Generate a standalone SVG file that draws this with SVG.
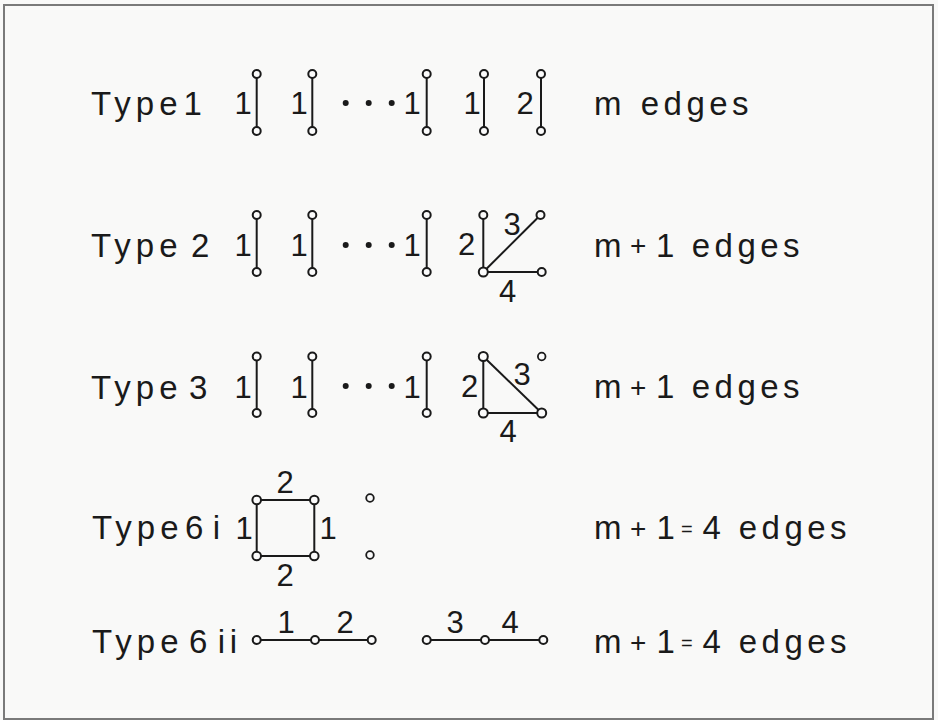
<svg xmlns="http://www.w3.org/2000/svg" width="938" height="720" viewBox="0 0 938 720">
<style>
  .bg{fill:#f9f9f8}
  .frame{fill:none;stroke:#7a7a7a;stroke-width:2}
  .e{stroke:#1a1a1a;stroke-width:2;fill:none}
  .v{fill:#fbfbfb;stroke:#1a1a1a;stroke-width:2}
  .s{fill:#fbfbfb;stroke:#1a1a1a;stroke-width:1.8}
  .dot{fill:#1a1a1a}
  .t{font-family:"Liberation Sans",Arial,sans-serif;font-size:33px;fill:#1a1a1a}
  .w{letter-spacing:5px}
  .g{letter-spacing:4.5px}
  .pl{font-size:28px}
  .eq{font-size:20px}
  .n{font-family:"Liberation Sans",Arial,sans-serif;font-size:31px;fill:#1a1a1a;text-anchor:middle}
</style>
<rect class="bg" x="0" y="0" width="938" height="720"/>
<rect class="frame" x="4" y="5" width="929" height="714"/>

<g id="connectors">
  <!-- Type 1 -->
  <line class="e" x1="256.7" y1="74" x2="256.7" y2="131"/>
  <line class="e" x1="312.3" y1="74" x2="312.3" y2="131"/>
  <line class="e" x1="426.7" y1="74" x2="426.7" y2="131"/>
  <line class="e" x1="484" y1="74" x2="484" y2="131"/>
  <line class="e" x1="541" y1="74" x2="541" y2="131"/>
  <!-- Type 2 -->
  <line class="e" x1="256.7" y1="215" x2="256.7" y2="272"/>
  <line class="e" x1="312.3" y1="215" x2="312.3" y2="272"/>
  <line class="e" x1="426.7" y1="215" x2="426.7" y2="272"/>
  <line class="e" x1="483.3" y1="215" x2="483.3" y2="272"/>
  <line class="e" x1="483.3" y1="272" x2="540.5" y2="215"/>
  <line class="e" x1="483.3" y1="272" x2="541.7" y2="272"/>
  <!-- Type 3 -->
  <line class="e" x1="256.7" y1="356.5" x2="256.7" y2="413"/>
  <line class="e" x1="312.3" y1="356.5" x2="312.3" y2="413"/>
  <line class="e" x1="426.7" y1="356.5" x2="426.7" y2="413"/>
  <line class="e" x1="483.3" y1="356.5" x2="483.3" y2="413"/>
  <line class="e" x1="483.3" y1="356.5" x2="541.7" y2="413"/>
  <line class="e" x1="483.3" y1="413" x2="541.7" y2="413"/>
  <!-- Type 6i -->
  <rect class="e" x="256.7" y="500" width="57.6" height="56"/>
  <!-- Type 6ii -->
  <line class="e" x1="256.7" y1="640" x2="371.7" y2="640"/>
  <line class="e" x1="426.7" y1="640" x2="543.3" y2="640"/>
</g>

<g id="type1">
  <text class="t" y="115"><tspan class="w" x="91">Typ</tspan><tspan>e</tspan> <tspan x="183.5">1</tspan></text>
  <g class="nodes">
    <circle class="v" cx="256.7" cy="74" r="4"/><circle class="v" cx="256.7" cy="131" r="4"/>
    <circle class="v" cx="312.3" cy="74" r="4"/><circle class="v" cx="312.3" cy="131" r="4"/>
    <circle class="v" cx="426.7" cy="74" r="4"/><circle class="v" cx="426.7" cy="131" r="4"/>
    <circle class="v" cx="484" cy="74" r="4"/><circle class="v" cx="484" cy="131" r="4"/>
    <circle class="v" cx="541" cy="74" r="4"/><circle class="v" cx="541" cy="131" r="4"/>
  </g>
  <text class="n" x="243" y="114">1</text>
  <text class="n" x="299" y="114">1</text>
  <text class="n" x="412" y="114">1</text>
  <text class="n" x="472" y="114">1</text>
  <text class="n" x="525" y="114">2</text>
  <circle class="dot" cx="345.7" cy="103" r="3"/>
  <circle class="dot" cx="368.7" cy="103" r="3"/>
  <circle class="dot" cx="391.7" cy="103" r="3"/>
  <text class="t" y="115"><tspan x="594">m</tspan> <tspan class="g" x="640.7">edges</tspan></text>
</g>

<g id="type2">
  <text class="t" y="256.5"><tspan class="w" x="91">Typ</tspan><tspan>e</tspan> <tspan x="191">2</tspan></text>
  <g class="nodes">
    <circle class="v" cx="256.7" cy="215" r="4"/><circle class="v" cx="256.7" cy="272" r="4"/>
    <circle class="v" cx="312.3" cy="215" r="4"/><circle class="v" cx="312.3" cy="272" r="4"/>
    <circle class="v" cx="426.7" cy="215" r="4"/><circle class="v" cx="426.7" cy="272" r="4"/>
    <circle class="v" cx="483.3" cy="215" r="4"/><circle class="v" cx="483.3" cy="272" r="4.5"/>
    <circle class="v" cx="540.5" cy="215" r="4"/><circle class="v" cx="541.7" cy="272" r="4"/>
  </g>
  <text class="n" x="243" y="256">1</text>
  <text class="n" x="299" y="256">1</text>
  <text class="n" x="412" y="256">1</text>
  <text class="n" x="466.5" y="255">2</text>
  <text class="n" x="512" y="235">3</text>
  <text class="n" x="507.5" y="302">4</text>
  <circle class="dot" cx="345.7" cy="245" r="3"/>
  <circle class="dot" cx="368.7" cy="245" r="3"/>
  <circle class="dot" cx="391.7" cy="245" r="3"/>
  <text class="t" y="256.5"><tspan x="594">m</tspan> <tspan class="pl" x="630" dy="-1.5">+</tspan> <tspan x="656" dy="1.5">1</tspan> <tspan class="g" x="691.7">edges</tspan></text>
</g>

<g id="type3">
  <text class="t" y="399"><tspan class="w" x="91">Typ</tspan><tspan>e</tspan> <tspan x="189">3</tspan></text>
  <g class="nodes">
    <circle class="v" cx="256.7" cy="356.5" r="4"/><circle class="v" cx="256.7" cy="413" r="4"/>
    <circle class="v" cx="312.3" cy="356.5" r="4"/><circle class="v" cx="312.3" cy="413" r="4"/>
    <circle class="v" cx="426.7" cy="356.5" r="4"/><circle class="v" cx="426.7" cy="413" r="4"/>
    <circle class="v" cx="483.3" cy="356.5" r="4.5"/><circle class="v" cx="483.3" cy="413" r="4.5"/>
    <circle class="v" cx="541.7" cy="413" r="4.5"/>
    <circle class="s" cx="541.7" cy="356.5" r="3.8"/>
  </g>
  <text class="n" x="243" y="398">1</text>
  <text class="n" x="299" y="398">1</text>
  <text class="n" x="412" y="398">1</text>
  <text class="n" x="469.5" y="397">2</text>
  <text class="n" x="522" y="385">3</text>
  <text class="n" x="508" y="442">4</text>
  <circle class="dot" cx="345.7" cy="386" r="3"/>
  <circle class="dot" cx="368.7" cy="386" r="3"/>
  <circle class="dot" cx="391.7" cy="386" r="3"/>
  <text class="t" y="398"><tspan x="594">m</tspan> <tspan class="pl" x="630" dy="-1.5">+</tspan> <tspan x="656" dy="1.5">1</tspan> <tspan class="g" x="691.7">edges</tspan></text>
</g>

<g id="type6i">
  <text class="t" y="539"><tspan class="w" x="92">Typ</tspan><tspan>e</tspan> <tspan x="185">6</tspan><tspan x="212.7">i</tspan></text>
  <g class="nodes">
    <circle class="v" cx="256.7" cy="500" r="4.3"/><circle class="v" cx="314.3" cy="500" r="4.3"/>
    <circle class="v" cx="256.7" cy="556" r="4.3"/><circle class="v" cx="314.3" cy="556" r="4.3"/>
    <circle class="s" cx="370" cy="498" r="3.8"/><circle class="s" cx="370" cy="555" r="3.8"/>
  </g>
  <text class="n" x="285" y="493">2</text>
  <text class="n" x="285" y="586">2</text>
  <text class="n" x="244" y="539">1</text>
  <text class="n" x="328" y="539">1</text>
  <text class="t" y="539"><tspan x="594">m</tspan> <tspan class="pl" x="630" dy="-1.5">+</tspan> <tspan x="656.5" dy="1.5">1</tspan><tspan class="eq" x="681" dy="-3">=</tspan><tspan x="702.5" dy="3">4</tspan> <tspan class="g" x="738.7">edges</tspan></text>
</g>

<g id="type6ii">
  <text class="t" y="653"><tspan class="w" x="92">Typ</tspan><tspan>e</tspan><tspan x="189">6</tspan><tspan x="217.7">i</tspan><tspan x="229.7">i</tspan></text>
  <g class="nodes">
    <circle class="v" cx="256.7" cy="640" r="4"/><circle class="v" cx="315" cy="640" r="4"/><circle class="v" cx="371.7" cy="640" r="4"/>
    <circle class="v" cx="426.7" cy="640" r="4"/><circle class="v" cx="485" cy="640" r="4"/><circle class="v" cx="543.3" cy="640" r="4"/>
  </g>
  <text class="n" x="286" y="633">1</text>
  <text class="n" x="345" y="633">2</text>
  <text class="n" x="455" y="633">3</text>
  <text class="n" x="510" y="633">4</text>
  <text class="t" y="653"><tspan x="594">m</tspan> <tspan class="pl" x="630" dy="-1.5">+</tspan> <tspan x="656.5" dy="1.5">1</tspan><tspan class="eq" x="681" dy="-3">=</tspan><tspan x="702.5" dy="3">4</tspan> <tspan class="g" x="738.7">edges</tspan></text>
</g>
</svg>
